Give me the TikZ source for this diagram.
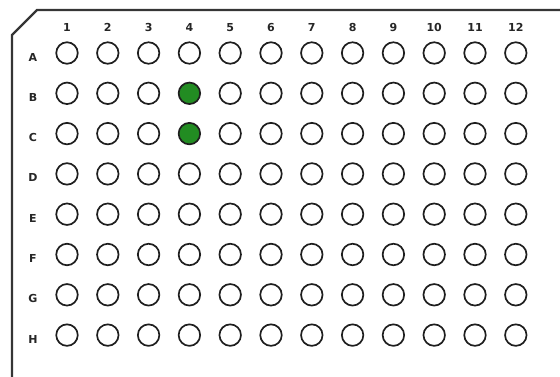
\documentclass[tikz,border=0pt]{standalone}
\usepackage{fontspec}
\setsansfont{DejaVu Sans}
\usetikzlibrary{positioning}
\definecolor{hit}{RGB}{34,140,34}
\definecolor{rim}{RGB}{30,30,30}
\tikzset{
  well/.style={circle,draw=rim,line width=1.7pt,minimum size=21.5pt,inner sep=0pt},
  wellB4/.style={fill=hit},
  wellC4/.style={fill=hit},
  plabel/.style={font=\sffamily\bfseries\fontsize{11}{11}\selectfont,text=black!85,
    text height=8pt,text depth=0pt,inner sep=1pt}
}

\begin{document}
\begin{tikzpicture}[x=1pt,y=-1pt]
  \useasboundingbox (0,0) rectangle (560,376);
  % plate outline with the cut corner
  \draw[rim!90,line width=2.2pt] (566,10) -- (37,10) -- (12,35) -- (12,382);
  \foreach \c in {1,...,12}
    \node[plabel] (col\c) at ({67+(\c-1)*40.8},27) {\c};
  \foreach \r [count=\i from 0] in {A,...,H}{
    \node[plabel] (row\r) at (33,{57+\i*40.3}) {\r};
    \foreach \c in {1,...,12}
      \node[well,well\r\c/.try] (w\r\c) at ({67+(\c-1)*40.8},{53+\i*40.3}) {};
  }
\end{tikzpicture}
\end{document}
